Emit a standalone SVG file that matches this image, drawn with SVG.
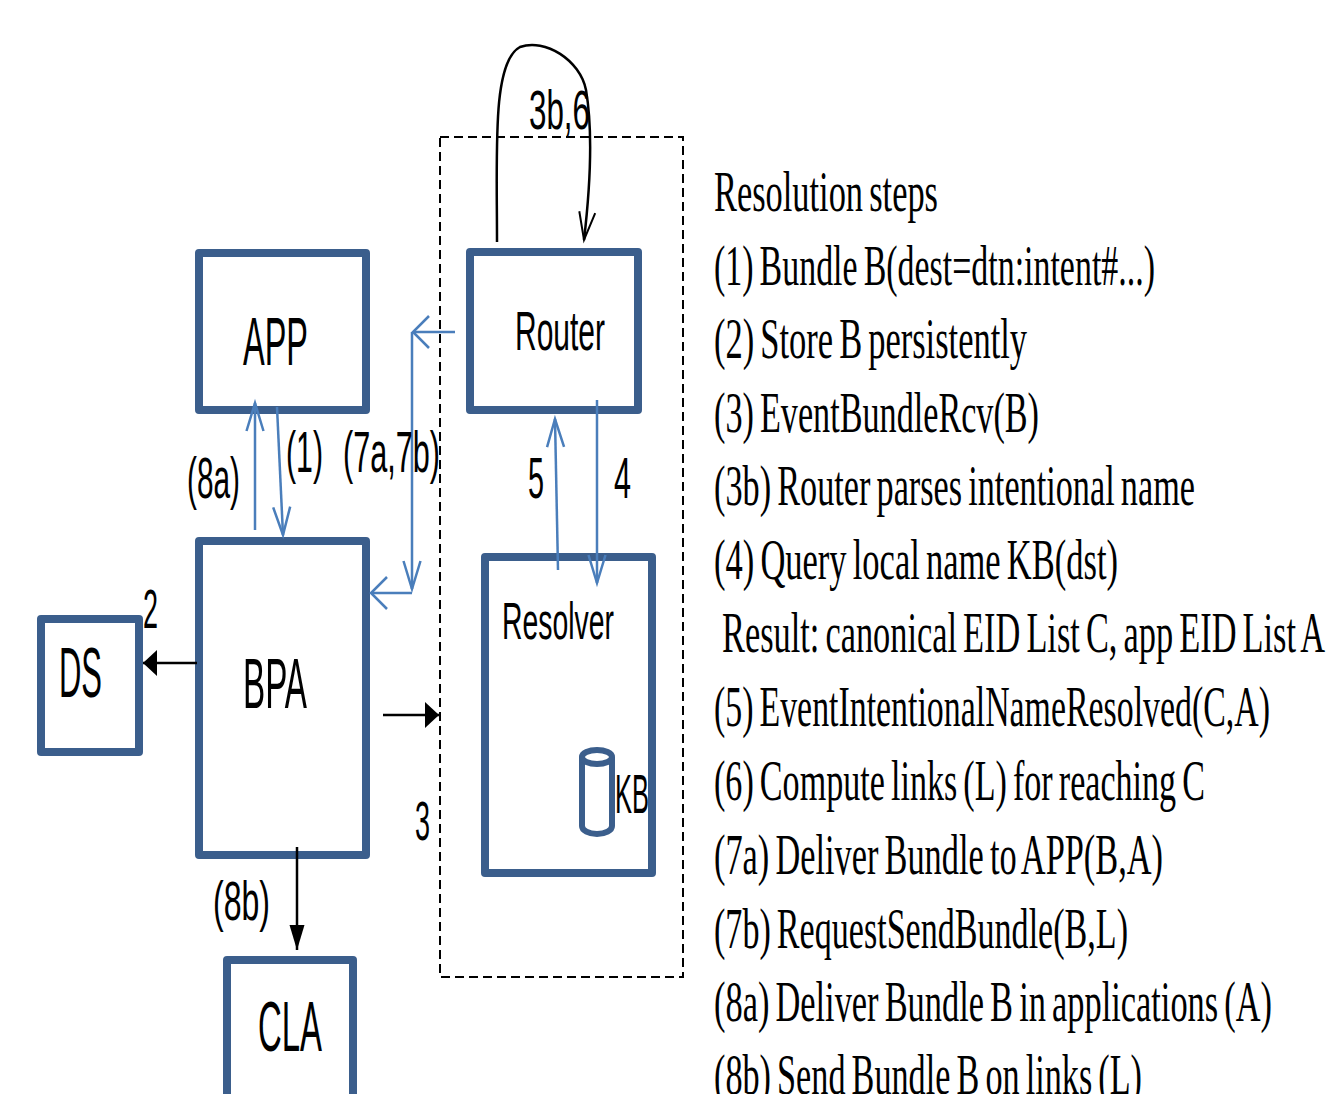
<svg xmlns="http://www.w3.org/2000/svg" width="1327" height="1094" viewBox="0 0 1327 1094">
<style>
.box{fill:#fff;stroke:#3B5E8C;stroke-width:8;stroke-linejoin:round}
.lbl{font-family:"Liberation Sans",Arial,sans-serif;fill:#000}
.step{font-family:"Liberation Serif","Times New Roman",serif;font-size:56px;fill:#000;word-spacing:-4px}
.blue{fill:none;stroke:#4A7EBB;stroke-width:2.5}
.blk{fill:none;stroke:#000;stroke-width:2.5}
</style>
<defs>
<marker id="vb" markerUnits="userSpaceOnUse" orient="auto" refX="0" refY="0" markerWidth="40" markerHeight="40" overflow="visible"><path d="M-28,-8.5 L0,0 L-28,8.5" fill="none" stroke="#4A7EBB" stroke-width="2.5"/></marker>
<marker id="hb" markerUnits="userSpaceOnUse" orient="auto" refX="0" refY="0" markerWidth="40" markerHeight="40" overflow="visible"><path d="M-16,-16 L0,0 L-16,16" fill="none" stroke="#4A7EBB" stroke-width="2.5"/></marker>
<marker id="loop" markerUnits="userSpaceOnUse" orient="auto" refX="0" refY="0" markerWidth="40" markerHeight="40" overflow="visible"><path d="M-28,-8 L0,0 L-28,8" fill="none" stroke="#000" stroke-width="2"/></marker>
<marker id="bh" markerUnits="userSpaceOnUse" orient="auto" refX="0" refY="0" markerWidth="40" markerHeight="40" overflow="visible"><path d="M-14,-13 L0,0 L-14,13 Z" fill="#000"/></marker>
<marker id="bv" markerUnits="userSpaceOnUse" orient="auto" refX="0" refY="0" markerWidth="40" markerHeight="40" overflow="visible"><path d="M-25,-7.5 L0,0 L-25,7.5 Z" fill="#000"/></marker>
</defs>
<rect width="1327" height="1094" fill="#fff"/>

<g id="dashed-region">
<rect x="440" y="137" width="243" height="840" fill="none" stroke="#000" stroke-width="2" stroke-dasharray="9 5"/>
</g>

<g id="node-app">
<rect class="box" x="199" y="253" width="167" height="157"/>
<text class="lbl" x="243" y="365" font-size="68" textLength="65" lengthAdjust="spacingAndGlyphs">APP</text>
</g>
<g id="node-router">
<rect class="box" x="470" y="252" width="168" height="158"/>
<text class="lbl" x="515" y="350" font-size="55" textLength="90" lengthAdjust="spacingAndGlyphs">Router</text>
</g>
<g id="node-bpa">
<rect class="box" x="199" y="541" width="167" height="314"/>
<text class="lbl" x="243" y="708" font-size="70" textLength="64" lengthAdjust="spacingAndGlyphs">BPA</text>
</g>
<g id="node-resolver">
<rect class="box" x="485" y="557" width="167" height="316"/>
<text class="lbl" x="502" y="639" font-size="52" textLength="112" lengthAdjust="spacingAndGlyphs">Resolver</text>
<path d="M582,757 V826 A15,8 0 0,0 612,826 V757" fill="#fff" stroke="#3B5E8C" stroke-width="6"/>
<ellipse cx="597" cy="757" rx="15" ry="7" fill="#fff" stroke="#3B5E8C" stroke-width="6"/>
<text class="lbl" x="615" y="813" font-size="55" textLength="34" lengthAdjust="spacingAndGlyphs">KB</text>
</g>
<g id="node-ds">
<rect class="box" x="41" y="619" width="98" height="133"/>
<text class="lbl" x="59" y="697" font-size="70" textLength="43" lengthAdjust="spacingAndGlyphs">DS</text>
</g>
<g id="node-cla">
<rect class="box" x="227" y="960" width="126" height="150"/>
<text class="lbl" x="258" y="1051" font-size="70" textLength="64" lengthAdjust="spacingAndGlyphs">CLA</text>
</g>

<g id="connectors">
<path class="blk" stroke-width="2" d="M497,242 C497,150 492,62 520,47 C545,38 580,60 586,90 C592,125 591,180 584,240" marker-end="url(#loop)"/>
<path class="blue" d="M455,332 H413" marker-end="url(#hb)"/>
<path class="blue" d="M412,332 V589" marker-end="url(#vb)"/>
<path class="blue" d="M412,593 H371" marker-end="url(#hb)"/>
<path class="blue" d="M255,530 V403" marker-end="url(#vb)"/>
<path class="blue" d="M277,407 L283,535" marker-end="url(#vb)"/>
<path class="blue" d="M558,570 L555,419" marker-end="url(#vb)"/>
<path class="blue" d="M597,400 V583" marker-end="url(#vb)"/>
<path class="blk" d="M197,663 H143" marker-end="url(#bh)"/>
<path class="blk" d="M383,715 H439" marker-end="url(#bh)"/>
<path class="blk" stroke-width="2" d="M297,847 V950" marker-end="url(#bv)"/>
</g>

<g id="edge-labels">
<text class="lbl" x="529" y="129" font-size="56" textLength="61" lengthAdjust="spacingAndGlyphs">3b,6</text>
<text class="lbl" x="187" y="498" font-size="57" textLength="53" lengthAdjust="spacingAndGlyphs">(8a)</text>
<text class="lbl" x="286" y="472" font-size="57" textLength="37" lengthAdjust="spacingAndGlyphs">(1)</text>
<text class="lbl" x="343" y="472" font-size="57" textLength="97" lengthAdjust="spacingAndGlyphs">(7a,7b)</text>
<text class="lbl" x="528" y="498" font-size="57" textLength="16" lengthAdjust="spacingAndGlyphs">5</text>
<text class="lbl" x="614" y="498" font-size="57" textLength="17" lengthAdjust="spacingAndGlyphs">4</text>
<text class="lbl" x="143" y="628" font-size="55" textLength="15" lengthAdjust="spacingAndGlyphs">2</text>
<text class="lbl" x="415" y="840" font-size="55" textLength="15" lengthAdjust="spacingAndGlyphs">3</text>
<text class="lbl" x="213" y="920" font-size="55" textLength="57" lengthAdjust="spacingAndGlyphs">(8b)</text>
</g>

<g id="steps">
<text class="step" x="714" y="211" textLength="224" lengthAdjust="spacingAndGlyphs">Resolution steps</text>
<text class="step" x="714" y="285" textLength="441" lengthAdjust="spacingAndGlyphs">(1) Bundle B(dest=dtn:intent#...)</text>
<text class="step" x="714" y="358" textLength="313" lengthAdjust="spacingAndGlyphs">(2) Store B persistently</text>
<text class="step" x="714" y="432" textLength="325" lengthAdjust="spacingAndGlyphs">(3) EventBundleRcv(B)</text>
<text class="step" x="714" y="505" textLength="481" lengthAdjust="spacingAndGlyphs">(3b) Router parses intentional name</text>
<text class="step" x="714" y="579" textLength="404" lengthAdjust="spacingAndGlyphs">(4) Query local name KB(dst)</text>
<text class="step" x="722" y="652" textLength="603" lengthAdjust="spacingAndGlyphs">Result: canonical EID List C, app EID List A</text>
<text class="step" x="714" y="726" textLength="556" lengthAdjust="spacingAndGlyphs">(5) EventIntentionalNameResolved(C,A)</text>
<text class="step" x="714" y="800" textLength="491" lengthAdjust="spacingAndGlyphs">(6) Compute links (L) for reaching C</text>
<text class="step" x="714" y="874" textLength="449" lengthAdjust="spacingAndGlyphs">(7a) Deliver Bundle to APP(B,A)</text>
<text class="step" x="714" y="948" textLength="414" lengthAdjust="spacingAndGlyphs">(7b) RequestSendBundle(B,L)</text>
<text class="step" x="714" y="1021" textLength="558" lengthAdjust="spacingAndGlyphs">(8a) Deliver Bundle B in applications (A)</text>
<text class="step" x="714" y="1094" textLength="428" lengthAdjust="spacingAndGlyphs">(8b) Send Bundle B on links (L)</text>
</g>
</svg>
